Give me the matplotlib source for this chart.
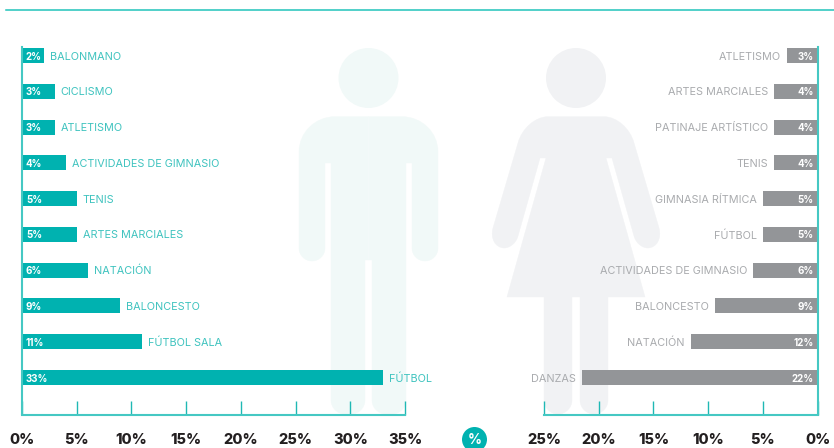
#!/usr/bin/env python3
"""Deportes por sexo: two mirrored bar panels over pale silhouettes."""
import matplotlib
matplotlib.use("Agg")
import matplotlib.pyplot as plt
from matplotlib.patches import Circle, PathPatch
from matplotlib.path import Path

plt.rcParams["font.family"] = ["Inter", "DejaVu Sans"]

men_sports = ["BALONMANO", "CICLISMO", "ATLETISMO", "ACTIVIDADES DE GIMNASIO", "TENIS",
              "ARTES MARCIALES", "NATACIÓN", "BALONCESTO", "FÚTBOL SALA", "FÚTBOL"]
men_values = [2, 3, 3, 4, 5, 5, 6, 9, 11, 33]
men_labels = ["2%", "3%", "3%", "4%", "5%", "5%", "6%", "9%", "11%", "33%"]

women_sports = ["ATLETISMO", "ARTES MARCIALES", "PATINAJE ARTÍSTICO", "TENIS", "GIMNASIA RÍTMICA",
                "FÚTBOL", "ACTIVIDADES DE GIMNASIO", "BALONCESTO", "NATACIÓN", "DANZAS"]
women_values = [2.8, 4.0, 4.0, 4.0, 5.0, 5.0, 5.9, 9.4, 11.6, 21.5]
women_labels = ["3%", "4%", "4%", "4%", "5%", "5%", "6%", "9%", "12%", "22%"]

men_ticks = [0, 5, 10, 15, 20, 25, 30, 35]
women_ticks = [25, 20, 15, 10, 5, 0]

TEAL = "#00b2b0"
TEAL_LINE = "#45c8c3"
TEAL_TEXT = "#3fc3bf"
GREY = "#939598"
GREY_TEXT = "#a9abae"
DARK = "#231f20"
W, H = 834, 448
K = 0.5523  # bezier factor for a quarter circle


def outline(parts):
    verts, codes = [], []
    for i, part in enumerate(parts):
        if len(part) == 2:
            verts.append(part)
            codes.append(Path.MOVETO if i == 0 else Path.LINETO)
        else:
            # rounded corner: (control x, control y, end x, end y)
            x0, y0 = verts[-1]
            cx, cy, x1, y1 = part
            verts += [(x0 + K * (cx - x0), y0 + K * (cy - y0)),
                      (x1 + K * (cx - x1), y1 + K * (cy - y1)),
                      (x1, y1)]
            codes += [Path.CURVE4] * 3
    return Path(verts, codes)


def mirrored(parts, cx):
    out = []
    for p in parts:
        out.append(tuple(2 * cx - v if j % 2 == 0 else v for j, v in enumerate(p)))
    return out


man_half = [(368.5, 116.7), (335, 116.7), (299, 116.7, 299, 152), (299, 248), (299, 261, 312, 261),
            (325, 261, 325, 248), (325, 163), (331, 163), (331, 400), (331, 414, 345, 414),
            (351, 414), (365, 414, 365, 400), (365, 260), (368.5, 260)]
woman_half = [(576, 116.7), (548, 116.7), (525, 116.7, 518, 143), (493, 228), (488, 247, 504, 248),
              (515, 248, 518, 236), (540, 158), (546, 158), (507, 297), (544, 297), (544, 400),
              (544, 414, 558, 414), (572, 414, 572, 400), (572, 297), (576, 297)]

fig = plt.figure(figsize=(W / 100, H / 100), dpi=100)

# background layer in pixel coordinates
bg = fig.add_axes([0, 0, 1, 1], zorder=0)
bg.set_xlim(0, W)
bg.set_ylim(H, 0)
bg.axis("off")
bg.plot([6, W], [10.5, 10.5], color="#22c3bb", lw=1.1)
for half, cx, col in [(man_half, 368.5, "#f1f9f8"), (woman_half, 576, "#f1f2f4")]:
    bg.add_patch(Circle((cx, 78), 30, fc=col, ec="none"))
    for parts in (half, mirrored(half, cx)):
        bg.add_patch(PathPatch(outline(parts), fc=col, ec=col, lw=0.3))
bg.add_patch(Circle((474.5, 439.5), 12.5, fc=TEAL, ec="none"))
bg.text(474.5, 439.5, "%", color="white", fontsize=10, fontweight="bold", ha="center", va="center")


def panel(x0, x1, xlim, sports, values, labels, ticks, color, text_color, side):
    ax = fig.add_axes([x0 / W, 1 - 414.5 / H, (x1 - x0) / W, (414.5 - 47.5) / H], zorder=1)
    ax.patch.set_visible(False)
    rows = list(range(len(sports)))
    ax.barh(rows, values, height=0.42, color=color)
    ax.set_xlim(*xlim)
    ax.set_ylim(10.034, -0.224)
    ax.set_yticks([])
    ax.set_xticks(ticks)
    ax.set_xticklabels([f"{t}%" for t in ticks], fontsize=10.5, fontweight="heavy", color=DARK)
    ax.tick_params(axis="x", direction="in", length=10, width=1, color="#1fb8b4", pad=13.5)
    for name, spine in ax.spines.items():
        spine.set_visible(name in ("bottom", side))
        spine.set_color(TEAL_LINE)
        spine.set_linewidth(1.5)
    sign = 1 if side == "left" else -1
    ha = "left" if side == "left" else "right"
    for r, v, name, lab in zip(rows, values, sports, labels):
        ax.annotate(name, (v, r), xytext=(sign * 4.3, 0), textcoords="offset points",
                    color=text_color, fontsize=7.8, ha=ha, va="center_baseline")
        ax.annotate(lab, (0, r), xytext=(sign * 2.8, 0), textcoords="offset points",
                    color="white", fontsize=7, fontweight="bold", ha=ha, va="center_baseline")


panel(22, 405, (0, 35), men_sports, men_values, men_labels, men_ticks, TEAL, TEAL_TEXT, "left")
panel(544, 817.6, (25, 0), women_sports, women_values, women_labels, women_ticks, GREY, GREY_TEXT, "right")

fig.savefig("out.png", dpi=100)
